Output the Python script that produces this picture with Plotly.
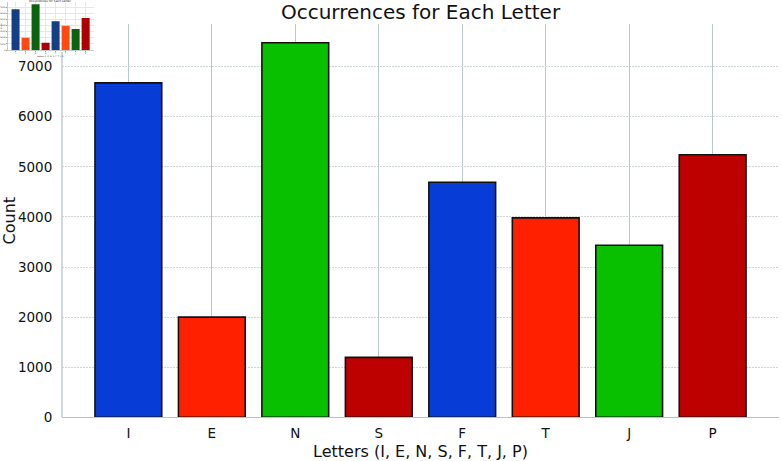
import plotly.graph_objects as go

letters = ["I", "E", "N", "S", "F", "T", "J", "P"]
counts = [6676, 1999, 7478, 1197, 4694, 3981, 3434, 5241]
main_colors = ["#073cd6", "#ff2000", "#08c000", "#bd0000", "#073cd6", "#ff2000", "#08c000", "#bd0000"]
inset_colors = ["#123f86", "#ff4a12", "#0b620f", "#ad0000", "#123f86", "#ff4a12", "#0b620f", "#ad0000"]
yticks = [0, 1000, 2000, 3000, 4000, 5000, 6000, 7000]

W, H = 782, 461
font = "DejaVu Sans"
ymax = max(counts) * 1.05
n = len(letters)

fig = go.Figure()
fig.add_trace(go.Bar(
    x=list(range(n)), y=counts, width=0.8,
    marker=dict(color=main_colors, line=dict(color="#111111", width=1.6)),
    xaxis="x", yaxis="y", showlegend=False, hoverinfo="x+y",
))
fig.add_trace(go.Bar(
    x=list(range(n)), y=counts, width=0.8,
    marker=dict(color=inset_colors, line=dict(width=0)),
    xaxis="x2", yaxis="y2", showlegend=False,
))

grid_v = "#b9c9c9"
grid_h = "#cdd5d5"
x0, x1 = 62 / W, 779 / W
y0, y1 = (H - 417.3) / H, (H - 24) / H

fig.update_layout(
    width=W, height=H,
    margin=dict(l=0, r=0, t=0, b=0, autoexpand=False),
    paper_bgcolor="white", plot_bgcolor="white",
    font=dict(family=font, color="#111111"),
    bargap=0.2,
    title=dict(text="Occurrences for Each Letter", x=420.5 / W, xanchor="center",
               y=1 - 12 / H, yanchor="middle", font=dict(size=20, family=font, color="#111111")),
    xaxis=dict(
        domain=[x0, x1], range=[-0.795, n - 1 + 0.795], automargin=False,
        tickmode="array", tickvals=list(range(n)), ticktext=letters,
        tickfont=dict(size=13.5, family=font), ticks="outside", ticklen=3,
        tickcolor="rgba(0,0,0,0)",
        showgrid=True, gridcolor=grid_v, gridwidth=1.3,
        showline=True, linecolor="#b5c5c7", linewidth=1.3,
        zeroline=False, anchor="y",
        title=dict(text="Letters (I, E, N, S, F, T, J, P)", font=dict(size=16, family=font), standoff=9),
    ),
    yaxis=dict(
        domain=[y0, y1], range=[0, ymax], automargin=False,
        tickmode="array", tickvals=yticks, ticktext=[str(v) for v in yticks],
        tickfont=dict(size=13.5, family=font), ticks="outside", ticklen=6,
        tickcolor="rgba(0,0,0,0)",
        showgrid=True, gridcolor=grid_h, gridwidth=1, griddash="2px,1px",
        showline=False, zeroline=False, anchor="x",
        title=dict(text="Count", font=dict(size=16, family=font), standoff=5),
    ),
    xaxis2=dict(
        domain=[7.6 / W, 93.6 / W], range=[-0.795, n - 1 + 0.795], automargin=False,
        tickmode="array", tickvals=list(range(n)), ticktext=letters,
        tickfont=dict(size=2, family=font), ticks="outside", ticklen=1,
        tickcolor="#999999",
        showgrid=True, gridcolor="#e4e8e8", gridwidth=0.5,
        showline=True, linecolor="#c0cccc", linewidth=0.5,
        zeroline=False, anchor="y2",
        title=dict(text="Letters (I, E, N, S, F, T, J, P)", font=dict(size=2, family=font), standoff=0),
    ),
    yaxis2=dict(
        domain=[(H - 50) / H, (H - 2) / H], range=[0, ymax], automargin=False,
        tickmode="array", tickvals=yticks, ticktext=[str(v) for v in yticks],
        tickfont=dict(size=2, family=font), ticks="outside", ticklen=1,
        tickcolor="#999999",
        showgrid=True, gridcolor="#e4e8e8", gridwidth=0.5,
        showline=True, linecolor="#c0cccc", linewidth=0.5,
        zeroline=False, anchor="x2",
        title=dict(text="Count", font=dict(size=2, family=font), standoff=0),
    ),
    annotations=[dict(
        text="Occurrences for Each Letter", x=50.6 / W, y=(H - 1) / H,
        xref="paper", yref="paper", showarrow=False, xanchor="center", yanchor="middle",
        font=dict(size=3, family=font, color="#222222"),
    )],
    shapes=[dict(
        type="line", xref="paper", yref="y", x0=x0, x1=x0, y0=0, y1=7300,
        line=dict(color="#b5c5c7", width=1.3), layer="below",
    )],
)

fig.write_html("out.html")
